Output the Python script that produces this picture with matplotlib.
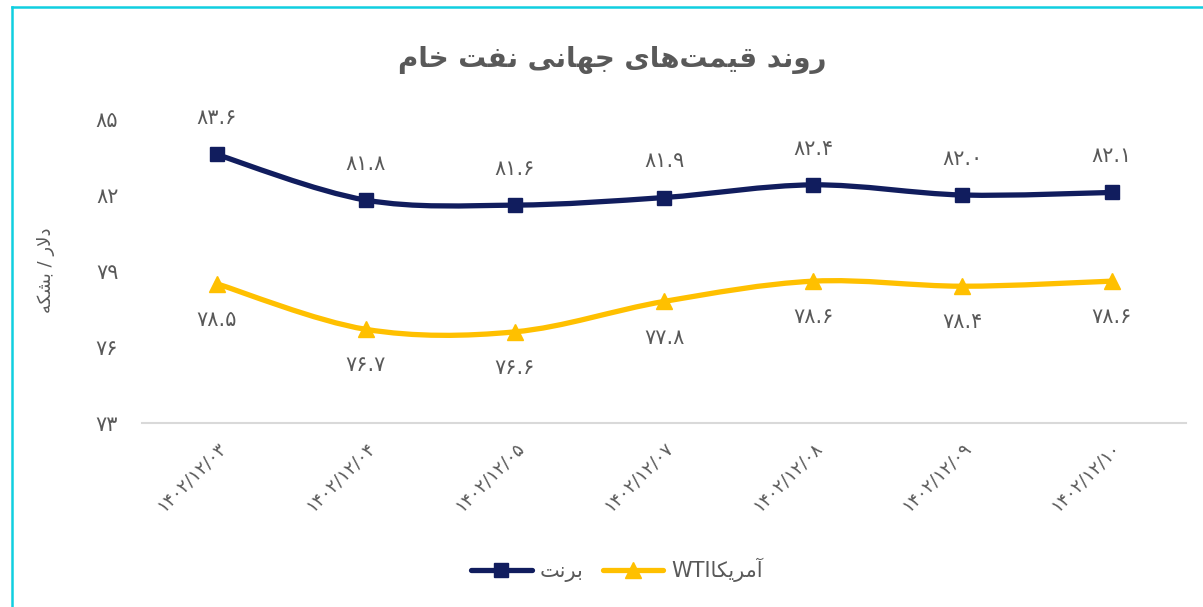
import matplotlib
matplotlib.use("Agg")
import matplotlib.pyplot as plt
from matplotlib.path import Path
from matplotlib.patches import PathPatch
from matplotlib.lines import Line2D

plt.rcParams['font.family'] = ['DejaVu Sans']

# dates (Persian calendar) and prices, dollars per barrel
dates = ['1402/12/03', '1402/12/04', '1402/12/05', '1402/12/07',
         '1402/12/08', '1402/12/09', '1402/12/10']
brent = [83.6, 81.8, 81.6, 81.9, 82.4, 82.0, 82.1]
wti = [78.5, 76.7, 76.6, 77.8, 78.6, 78.4, 78.6]
yticks = [73, 76, 79, 82, 85]

title_txt = 'روند قیمت\u200cهای جهانی نفت خام'
ylabel_txt = 'دلار / بشکه'
brent_txt = 'برنت'
wti_txt = 'آمریکا'

# --- minimal Persian shaping (matplotlib has no bidi / joining) ---
FORMS = {
    'ا': ('\uFE8D', '\uFE8E', None, None),
    'آ': ('\uFE81', '\uFE82', None, None),
    'ب': ('\uFE8F', '\uFE90', '\uFE91', '\uFE92'),
    'ت': ('\uFE95', '\uFE96', '\uFE97', '\uFE98'),
    'ج': ('\uFE9D', '\uFE9E', '\uFE9F', '\uFEA0'),
    'خ': ('\uFEA5', '\uFEA6', '\uFEA7', '\uFEA8'),
    'د': ('\uFEA9', '\uFEAA', None, None),
    'ر': ('\uFEAD', '\uFEAE', None, None),
    'ش': ('\uFEB5', '\uFEB6', '\uFEB7', '\uFEB8'),
    'ف': ('\uFED1', '\uFED2', '\uFED3', '\uFED4'),
    'ق': ('\uFED5', '\uFED6', '\uFED7', '\uFED8'),
    'ل': ('\uFEDD', '\uFEDE', '\uFEDF', '\uFEE0'),
    'م': ('\uFEE1', '\uFEE2', '\uFEE3', '\uFEE4'),
    'ن': ('\uFEE5', '\uFEE6', '\uFEE7', '\uFEE8'),
    'ه': ('\uFEE9', '\uFEEA', '\uFEEB', '\uFEEC'),
    'و': ('\uFEED', '\uFEEE', None, None),
    'ی': ('\uFBFC', '\uFBFD', '\uFBFE', '\uFBFF'),
    'ک': ('\uFB8E', '\uFB8F', '\uFB90', '\uFB91'),
}
LAMALEF = {'ا': ('\uFEFB', '\uFEFC'), 'آ': ('\uFEF5', '\uFEF6')}


def shape(s):
    out = []
    i = 0
    n = len(s)
    while i < n:
        c = s[i]
        prev = s[i - 1] if i > 0 else ''
        prev_joins = prev in FORMS and FORMS[prev][2] is not None
        if c == 'ل' and i + 1 < n and s[i + 1] in LAMALEF:
            out.append(LAMALEF[s[i + 1]][1 if prev_joins else 0])
            i += 2
            continue
        if c in FORMS:
            f = FORMS[c]
            nxt = s[i + 1] if i + 1 < n else ''
            next_joins = nxt in FORMS and f[2] is not None
            if prev_joins and next_joins:
                out.append(f[3])
            elif prev_joins:
                out.append(f[1])
            elif next_joins:
                out.append(f[2])
            else:
                out.append(f[0])
        elif c != '\u200c':
            out.append(c)
        i += 1
    return ''.join(reversed(out))


def fa(s):
    return str(s).translate(str.maketrans('0123456789', '۰۱۲۳۴۵۶۷۸۹'))


def smooth_path(xs, ys):
    pts = list(zip(xs, ys))
    verts = [pts[0]]
    codes = [Path.MOVETO]
    for i in range(len(pts) - 1):
        p0 = pts[i - 1] if i > 0 else pts[i]
        p1, p2 = pts[i], pts[i + 1]
        p3 = pts[i + 2] if i + 2 < len(pts) else pts[i + 1]
        c1 = (p1[0] + (p2[0] - p0[0]) / 6, p1[1] + (p2[1] - p0[1]) / 6)
        c2 = (p2[0] - (p3[0] - p1[0]) / 6, p2[1] - (p3[1] - p1[1]) / 6)
        verts += [c1, c2, p2]
        codes += [Path.CURVE4] * 3
    return Path(verts, codes)


navy = '#111d5e'
gold = '#ffc000'
txt = '#595959'

fig = plt.figure(figsize=(12.03, 6.07), dpi=100)
ax = fig.add_axes([0.118, 0.303, 0.868, 0.501])
x = list(range(len(dates)))

for vals, col, mk, ms, off in [(brent, navy, 's', 10, 26), (wti, gold, '^', 11, -26)]:
    ax.add_patch(PathPatch(smooth_path(x, vals), facecolor='none', edgecolor=col,
                           lw=3.8, capstyle='round', joinstyle='round', zorder=2))
    ax.plot(x, vals, linestyle='none', marker=mk, markersize=ms, color=col, zorder=3)
    for xi, v in zip(x, vals):
        ax.annotate(fa(f'{v:.1f}'), (xi, v), xytext=(0, off), textcoords='offset points',
                    ha='center', va='center', fontsize=15, color=txt)

ax.set_xlim(-0.5, len(dates) - 0.5)
ax.set_ylim(yticks[0], yticks[-1])
ax.set_yticks(yticks)
ax.set_yticklabels([fa(t) for t in yticks], fontsize=15, color=txt)
ax.set_xticks(x)
ax.set_xticklabels([fa(d) for d in dates], rotation=45, ha='right', va='top',
                   rotation_mode='anchor', fontsize=13, color=txt)
ax.tick_params(axis='x', length=0, pad=11)
ax.tick_params(axis='y', length=0, pad=17)
for s in ['top', 'right', 'left']:
    ax.spines[s].set_visible(False)
ax.spines['bottom'].set_color('#d9d9d9')
ax.spines['bottom'].set_linewidth(1.5)

fig.text(0.038, 0.555, shape(ylabel_txt), rotation=90, ha='center', va='center',
         fontsize=13, color=txt)
fig.text(0.509, 0.901, shape(title_txt), ha='center', va='center', fontsize=20,
         fontweight='bold', color='#595959')

handles = [Line2D([], [], color=navy, lw=3.8, marker='s', markersize=10, solid_capstyle='round'),
           Line2D([], [], color=gold, lw=3.8, marker='^', markersize=11, solid_capstyle='round')]
fig.legend(handles, [shape(brent_txt), 'WTI' + shape(wti_txt)], loc='center',
           bbox_to_anchor=(0.513, 0.061), ncol=2, frameon=False, fontsize=15,
           labelcolor=txt, handlelength=2.9, columnspacing=0.9, handletextpad=0.4)

# cyan frame (only top and left edges fall inside the picture)
fig.add_artist(Line2D([11.5 / 1203, 11.5 / 1203], [0, 1 - 6.5 / 607], color='#10cfe0', lw=1.8))
fig.add_artist(Line2D([11.5 / 1203, 1], [1 - 6.5 / 607, 1 - 6.5 / 607], color='#10cfe0', lw=1.8))

fig.savefig('out.png', dpi=100, facecolor='white')
